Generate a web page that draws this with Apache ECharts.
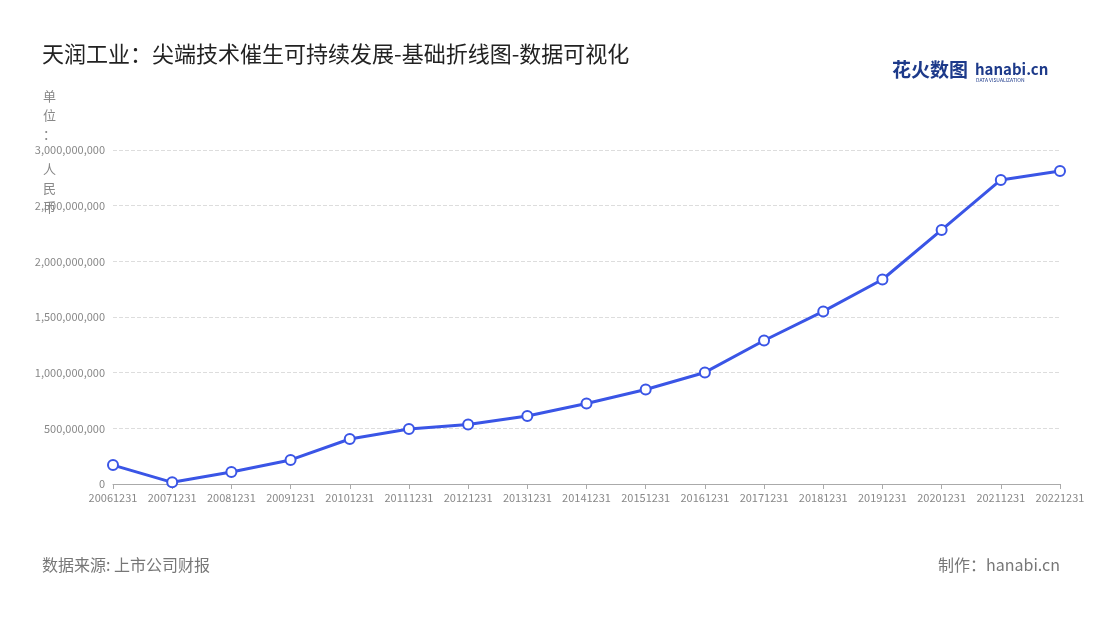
<!DOCTYPE html>
<html><head><meta charset="utf-8">
<script src="https://cdn.jsdelivr.net/npm/echarts@6/dist/echarts.min.js"></script>
<style>body{margin:0}#c{width:1100px;height:620px}</style></head>
<body><div id="c"></div>
<script>
const categories = ['20061231','20071231','20081231','20091231','20101231','20111231','20121231','20131231','20141231','20151231','20161231','20171231','20181231','20191231','20201231','20211231','20221231'];
const values = [170000000,15000000,108000000,216000000,404000000,494000000,535000000,611000000,723000000,849000000,1002000000,1289000000,1550000000,1837000000,2282000000,2731000000,2812000000];
const ff = '"Noto Sans CJK SC","Noto Sans",sans-serif';
const chart = echarts.init(document.getElementById('c'));
chart.setOption({
  animation:false,
  textStyle:{fontFamily:ff},
  title:{text:'天润工业：尖端技术催生可持续发展-基础折线图-数据可视化',left:37,top:38,textStyle:{fontSize:22,fontWeight:'normal',color:'#222',fontFamily:ff}},
  graphic:[
    {type:'text',left:43,top:87,style:{text:'单\n位\n：',fill:'#888',font:'13px '+ff,lineHeight:19}},
    {type:'text',left:43,top:160,style:{text:'人\n民\n币',fill:'#888',font:'13px '+ff,lineHeight:19}},
    {type:'text',left:42,top:557,style:{text:'数据来源: 上市公司财报',fill:'#777',font:'16px '+ff}},
    {type:'text',right:40,top:557,style:{text:'制作：hanabi.cn',fill:'#777',font:'16px '+ff}},
    {type:'text',left:892,top:60,style:{text:'花火数图',fill:'#1d3a8a',font:'bold 19px '+ff}},
    {type:'text',left:975,top:62,style:{text:'hanabi.cn',fill:'#1d3a8a',font:'bold 15px '+ff}},
    {type:'text',left:976,top:78,style:{text:'DATA VISUALIZATION',fill:'#1d3a8a',font:'5px '+ff}}
  ],
  grid:{left:113,right:40,top:150,bottom:136},
  xAxis:{type:'category',data:categories,boundaryGap:false,
    axisLine:{lineStyle:{color:'#aaa'}},axisTick:{show:true,lineStyle:{color:'#aaa'}},
    axisLabel:{color:'#888',fontSize:11,interval:0}},
  yAxis:{type:'value',min:0,max:3000000000,interval:500000000,
    axisLabel:{color:'#888',fontSize:11,formatter:v=>v.toLocaleString('en-US')},
    splitLine:{lineStyle:{type:'dashed',color:'#ddd'}}},
  series:[{type:'line',data:values,symbol:'circle',symbolSize:10,
    lineStyle:{color:'#3a55e6',width:3},
    itemStyle:{color:'#fff',borderColor:'#3a55e6',borderWidth:2}}]
});
</script></body></html>
